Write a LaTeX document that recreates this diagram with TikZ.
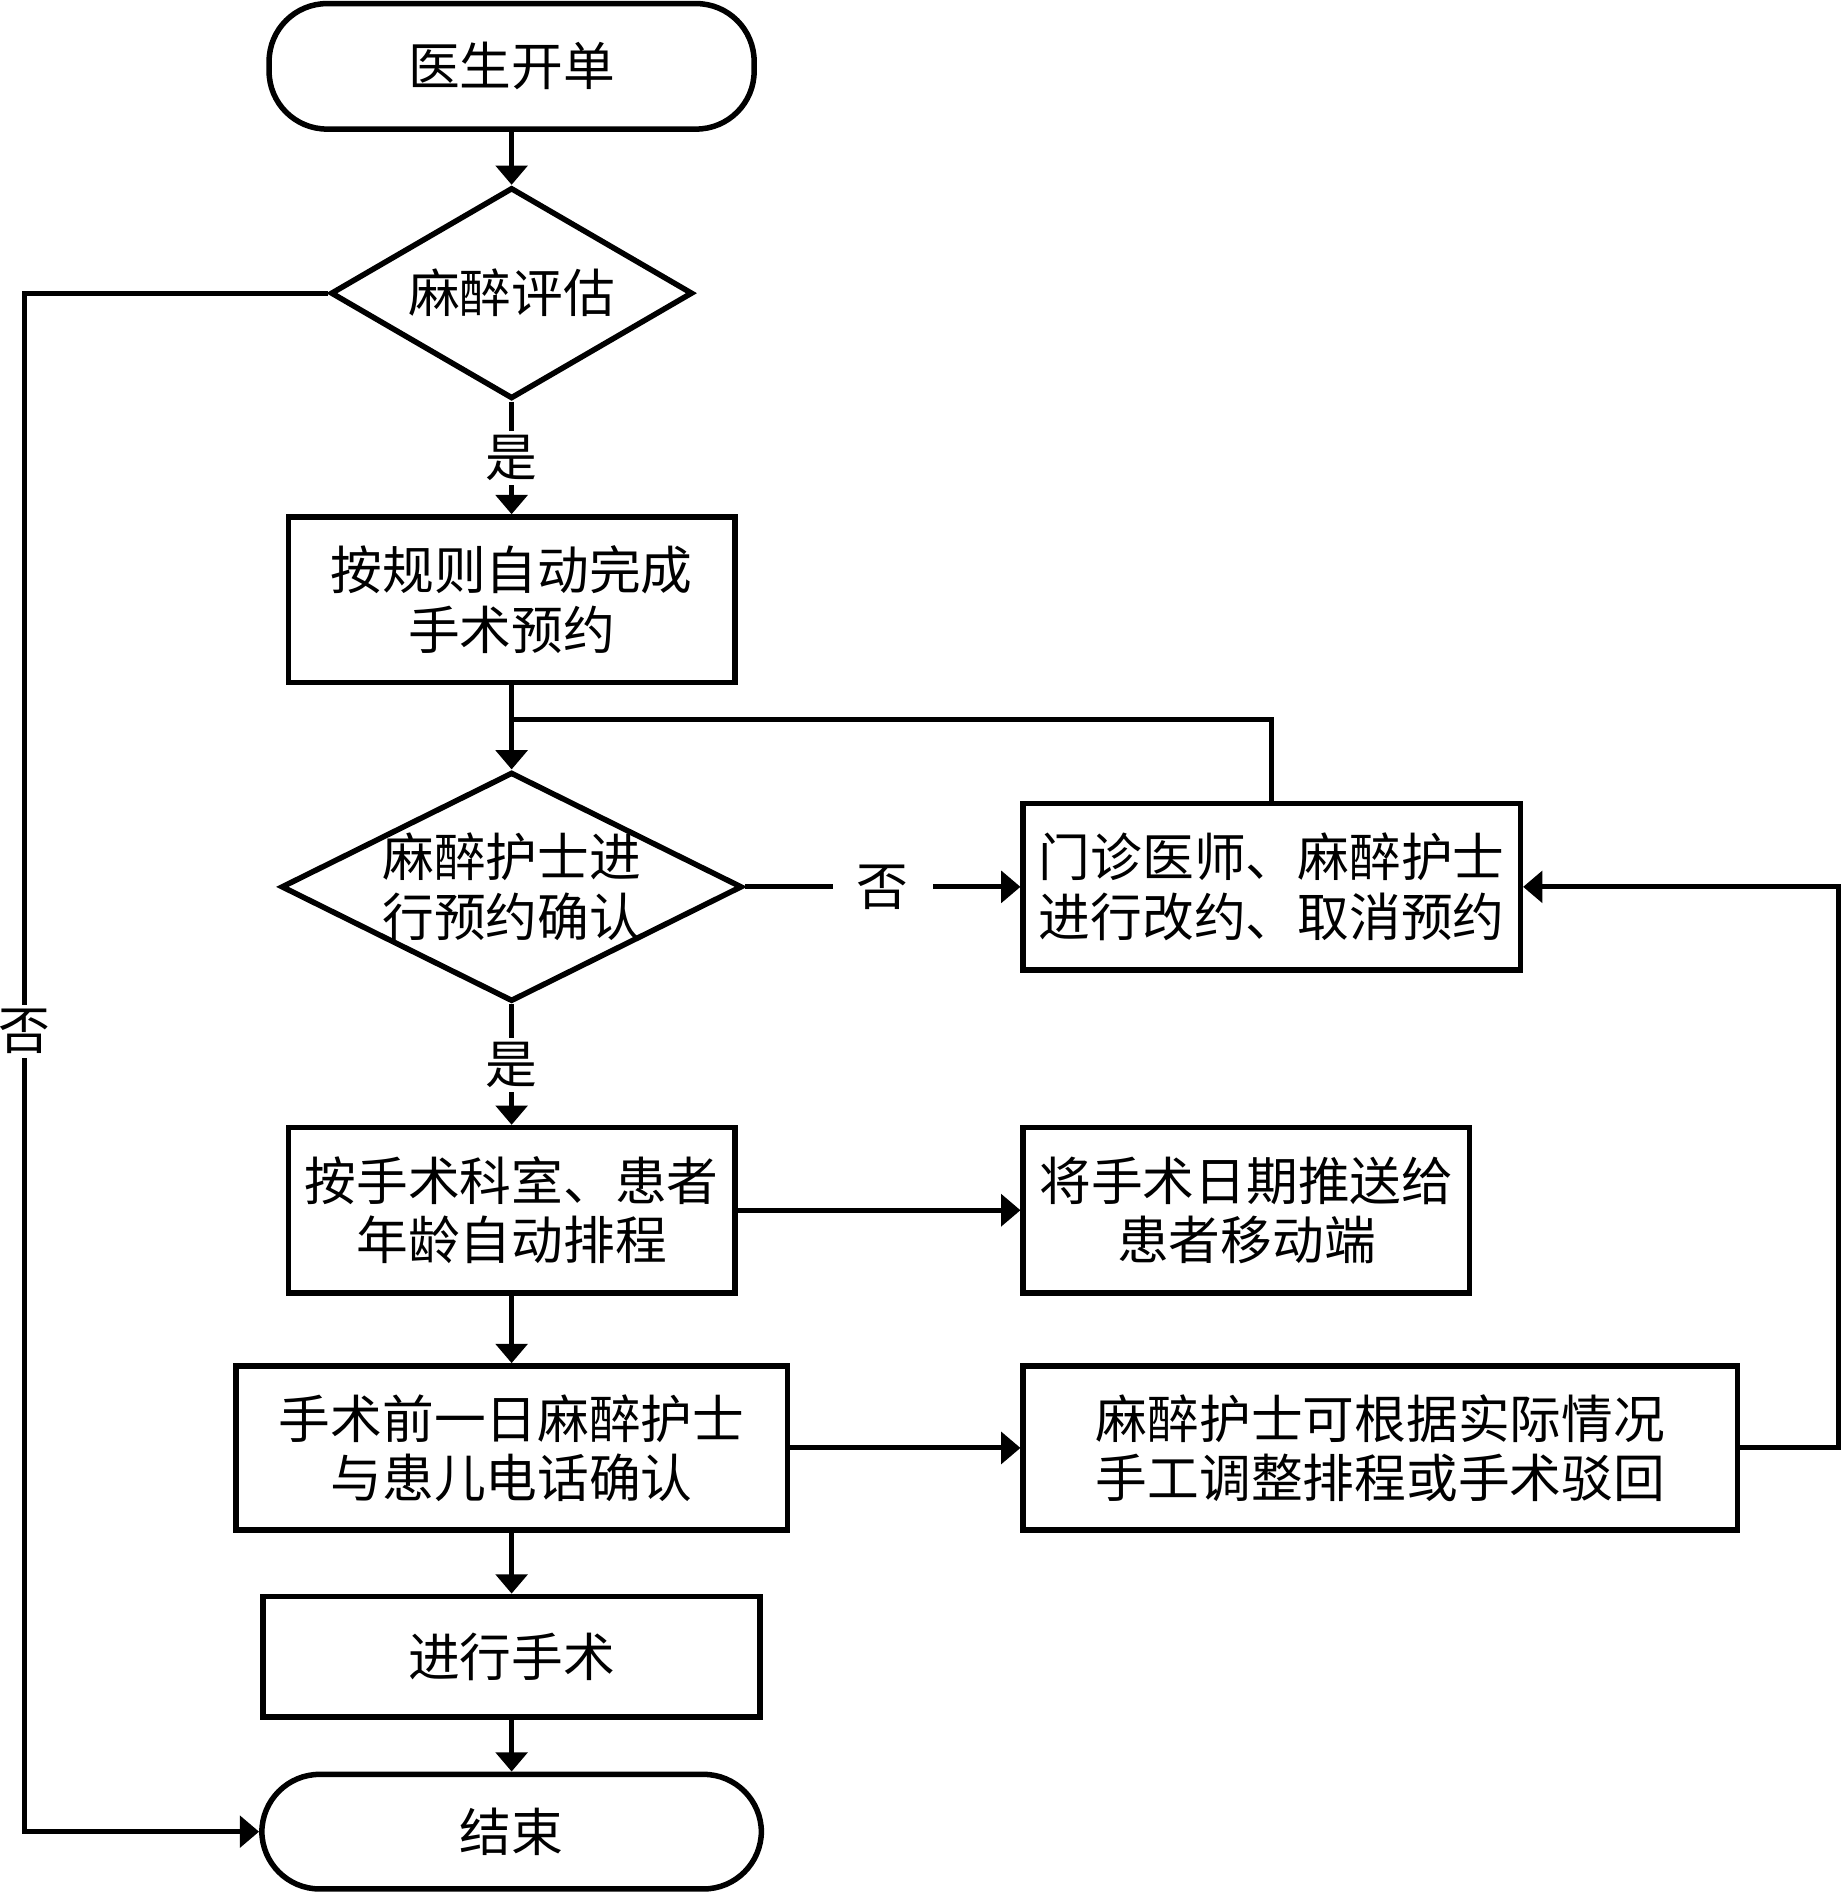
\documentclass[tikz,border=0pt]{standalone}
\usepackage{fontspec}
\setmainfont{Noto Sans CJK SC}
\usetikzlibrary{shapes.geometric, arrows.meta}

\begin{document}
\begin{tikzpicture}[
		line width=1.2pt,
		every node/.style={font=\fontsize{12.2pt}{14pt}\selectfont, align=center},
		box/.style={rectangle, draw=black, line width=1.3pt, inner sep=0mm},
		terminal/.style={rectangle, rounded corners=0.48cm, draw=black, line width=1.3pt, inner sep=0mm},
		decision/.style={diamond, aspect=2, draw=black, line width=1.3pt, inner sep=-6pt},
		flow/.style={-{Triangle[length=0.16cm, width=0.26cm]}},
		answer/.style={fill=white, inner sep=1pt}
	]
		\useasboundingbox (0, 0) rectangle (15.27, 15.68);
		\node[terminal, minimum width=4.02cm, minimum height=1.04cm] (start) at (4.24, 15.13) {医生开单};
		\node[decision, minimum width=3.0cm, minimum height=1.75cm] (assess) at (4.24, 13.25) {麻醉评估};
		\node[box, minimum width=3.7cm, minimum height=1.37cm] (autobook) at (4.24, 10.71) {按规则自动完成\\手术预约};
		\node[decision, minimum width=3.82cm, minimum height=1.9cm] (confirm) at (4.24, 8.33) {麻醉护士进\\行预约确认};
		\node[box, minimum width=4.12cm, minimum height=1.38cm] (rebook) at (10.54, 8.33) {门诊医师、麻醉护士\\进行改约、取消预约};
		\node[box, minimum width=3.7cm, minimum height=1.37cm] (autoschedule) at (4.24, 5.65) {按手术科室、患者\\年龄自动排程};
		\node[box, minimum width=3.7cm, minimum height=1.37cm] (pushdate) at (10.33, 5.65) {将手术日期推送给\\患者移动端};
		\node[box, minimum width=4.57cm, minimum height=1.36cm] (phonecall) at (4.24, 3.68) {手术前一日麻醉护士\\与患儿电话确认};
		\node[box, minimum width=5.92cm, minimum height=1.36cm] (manualadjust) at (11.44, 3.68) {麻醉护士可根据实际情况\\手工调整排程或手术驳回};
		\node[box, minimum width=4.12cm, minimum height=1.0cm] (surgery) at (4.24, 1.95) {进行手术};
		\node[terminal, minimum width=4.14cm, minimum height=0.95cm] (finish) at (4.24, 0.50) {结束};
		\coordinate (merge) at (4.24, 9.72);
		\coordinate (backright) at (15.24, 3.68);
		\coordinate (noleft) at (0.20, 13.25);
		\draw[flow] (start) -- (assess);
		\draw[flow] (assess) -- node[answer] {是} (autobook);
		\draw[flow] (autobook) -- (confirm);
		\draw[flow] (confirm) -- node[answer, inner xsep=0.2cm] {否} (rebook);
		\draw[flow] (confirm) -- node[answer] {是} (autoschedule);
		\draw[flow] (autoschedule) -- (pushdate);
		\draw[flow] (autoschedule) -- (phonecall);
		\draw[flow] (phonecall) -- (manualadjust);
		\draw[flow] (phonecall) -- (surgery);
		\draw[flow] (surgery) -- (finish);
		\draw (rebook.north) |- (merge);
		\draw[flow] (manualadjust) -- (backright) |- (rebook);
		\draw[flow] (assess) -- (noleft) |- node[answer, pos=0.24] {否} (finish);
	\end{tikzpicture}
\end{document}
